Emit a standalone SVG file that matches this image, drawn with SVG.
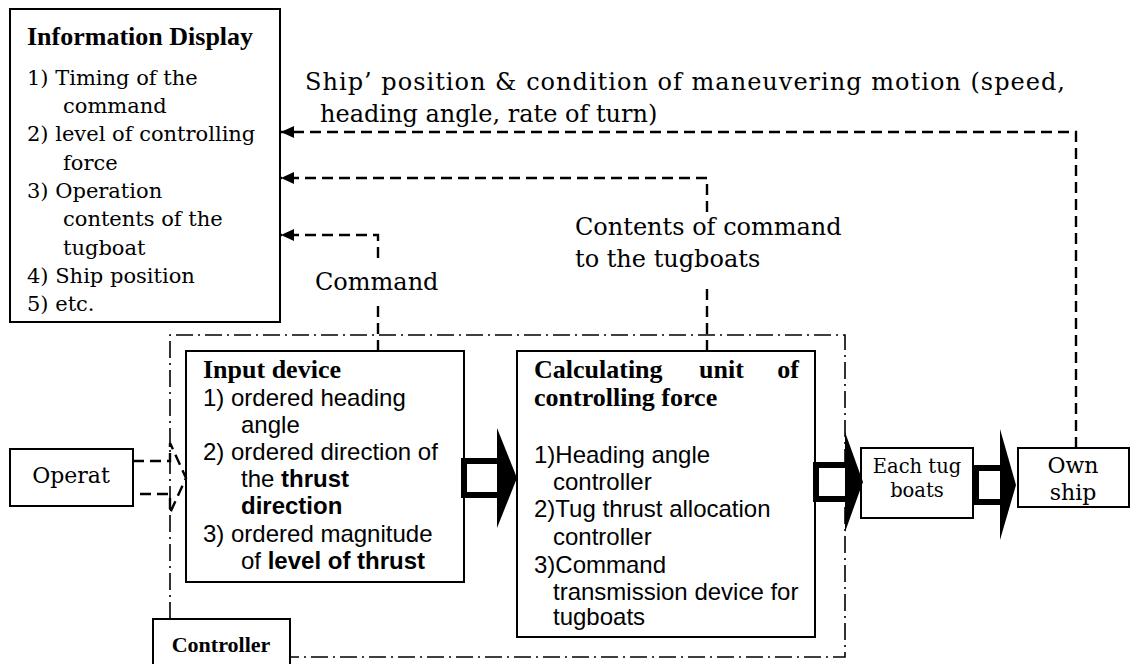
<svg xmlns="http://www.w3.org/2000/svg" width="1130" height="664" viewBox="0 0 1130 664">
<style>
.box{fill:#fff;stroke:#000;stroke-width:2}
.serif{font-family:"DejaVu Serif","Liberation Serif",serif;fill:#000}
.sans{font-family:"Liberation Sans",Arial,sans-serif;fill:#000;font-size:24px}
.info{font-size:21px}
.lbl{font-size:24px}
.hb{font-family:"Liberation Serif","Times New Roman",serif;font-weight:bold;font-size:26px;fill:#000}
.dash{fill:none;stroke:#000;stroke-width:2.4;stroke-dasharray:11 6}
.dashdot{fill:none;stroke:#000;stroke-width:1.6;stroke-dasharray:17 5 2 5}
.big{fill:#fff;stroke:#000;stroke-width:6}
</style>
<defs>
<marker id="ah" markerUnits="userSpaceOnUse" markerWidth="14" markerHeight="14" refX="13" refY="7" orient="auto">
<path d="M0,1 L13,7 L0,13 Z" fill="#000"/>
</marker>
</defs>

<g id="info-display">
<rect class="box" x="10" y="9" width="270" height="313"/>
<text class="hb" x="27" y="45">Information Display</text>
<text class="serif info" x="27" y="85">1) Timing of the</text>
<text class="serif info" x="63" y="113">command</text>
<text class="serif info" x="27" y="141">2) level of controlling</text>
<text class="serif info" x="63" y="170">force</text>
<text class="serif info" x="27" y="198">3) Operation</text>
<text class="serif info" x="63" y="226">contents of the</text>
<text class="serif info" x="63" y="255">tugboat</text>
<text class="serif info" x="27" y="283">4) Ship position</text>
<text class="serif info" x="27" y="311">5) etc.</text>
</g>

<g id="labels">
<text class="serif lbl" x="305" y="90" textLength="760" lengthAdjust="spacing">Ship’ position &amp; condition of maneuvering motion (speed,</text>
<text class="serif lbl" x="320" y="122">heading angle, rate of turn)</text>
<text class="serif lbl" x="575" y="235">Contents of command</text>
<text class="serif lbl" x="575" y="267">to the tugboats</text>
<text class="serif lbl" x="315" y="290">Command</text>
</g>

<g id="controller-frame">
<path class="dashdot" d="M170,619 L170,335 L845,335 L845,657 L290,657"/>
</g>

<g id="operator">
<rect class="box" x="10" y="449" width="123" height="57"/>
<text class="serif" style="font-size:22px" x="71" y="483" text-anchor="middle">Operat</text>
</g>

<g id="input-device">
<rect class="box" x="186" y="351" width="278" height="231"/>
<text class="hb" x="203" y="378">Input device</text>
<text class="sans" x="203" y="406">1) ordered heading</text>
<text class="sans" x="241" y="433">angle</text>
<text class="sans" x="203" y="460">2) ordered direction of</text>
<text class="sans" x="241" y="487">the <tspan font-weight="bold">thrust</tspan></text>
<text class="sans" x="241" y="514" font-weight="bold">direction</text>
<text class="sans" x="203" y="542">3) ordered magnitude</text>
<text class="sans" x="241" y="569">of <tspan font-weight="bold">level of thrust</tspan></text>
</g>

<g id="calculating-unit">
<rect class="box" x="517" y="351" width="298" height="286"/>
<text class="hb" x="534" y="378">Calculating</text>
<text class="hb" x="699" y="378">unit</text>
<text class="hb" x="799" y="378" text-anchor="end">of</text>
<text class="hb" x="534" y="406">controlling force</text>
<text class="sans" x="534" y="463">1)Heading angle</text>
<text class="sans" x="553" y="490">controller</text>
<text class="sans" x="534" y="517">2)Tug thrust allocation</text>
<text class="sans" x="553" y="545">controller</text>
<text class="sans" x="534" y="573">3)Command</text>
<text class="sans" x="553" y="600">transmission device for</text>
<text class="sans" x="553" y="625">tugboats</text>
</g>

<g id="each-tug">
<rect class="box" x="861" y="448" width="112" height="70"/>
<text class="serif" style="font-size:19.5px" x="917" y="473" text-anchor="middle">Each tug</text>
<text class="serif" style="font-size:19.5px" x="917" y="497" text-anchor="middle">boats</text>
</g>

<g id="own-ship">
<rect class="box" x="1018" y="448" width="111" height="59"/>
<text class="serif" style="font-size:22px" x="1073" y="473" text-anchor="middle">Own</text>
<text class="serif" style="font-size:22px" x="1073" y="500" text-anchor="middle">ship</text>
</g>

<g id="controller">
<rect class="box" x="153" y="619" width="137" height="50"/>
<text class="hb" style="font-size:22px" x="221" y="652" text-anchor="middle">Controller</text>
</g>

<g id="connectors">
<path class="dash" d="M1076,448 L1076,132 L281,132" marker-end="url(#ah)"/>
<path class="dash" d="M707,212 L707,178 L281,178" marker-end="url(#ah)"/>
<path class="dash" d="M707,351 L707,285"/>
<path class="dash" d="M378,258 L378,235 L281,235" marker-end="url(#ah)"/>
<path class="dash" d="M378,351 L378,300"/>
<path class="dash" d="M133,461 L170,461 L170,443 L186,478 L170,513 L170,494 L133,494"/>
<rect class="big" x="464" y="461" width="36" height="34"/>
<path d="M497,428 L517,478 L497,528 Z" fill="#000"/>
<rect class="big" x="816" y="465" width="32" height="34"/>
<path d="M845,432 L863,482 L845,532 Z" fill="#000"/>
<rect class="big" x="976" y="468" width="27" height="34"/>
<path d="M1000,429 L1016,485 L1000,540 Z" fill="#000"/>
</g>
</svg>
